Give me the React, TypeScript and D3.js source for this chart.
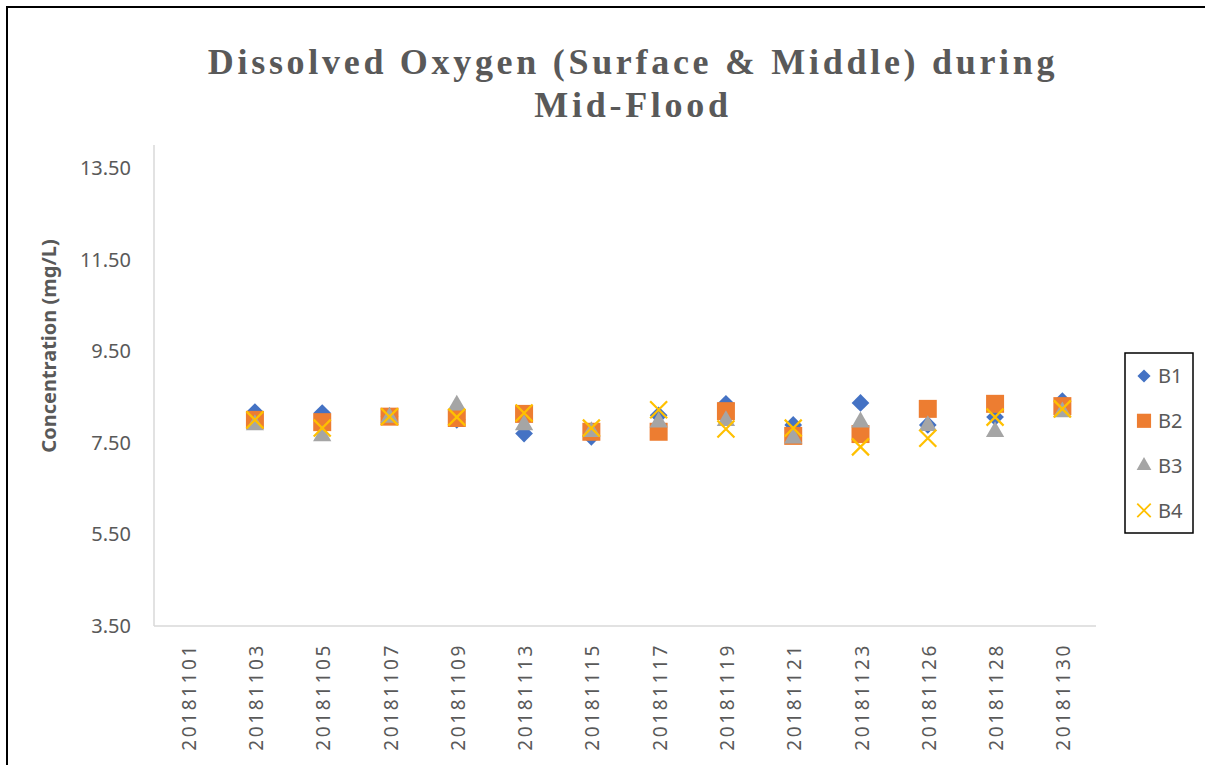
import React from "react";
import * as d3 from "d3";

// sampling dates (x categories)
const dates = [
  "20181101", "20181103", "20181105", "20181107", "20181109", "20181113", "20181115",
  "20181117", "20181119", "20181121", "20181123", "20181126", "20181128", "20181130",
];

// dissolved oxygen, mg/L (null = no sample)
const b1 = [null, 8.17, 8.15, 8.08, 8.0, 7.7, 7.63, 8.1, 8.35, 7.89, 8.37, 7.89, 8.06, 8.41];
const b2 = [null, 8.0, 7.95, 8.07, 8.04, 8.13, 7.74, 7.74, 8.19, 7.65, 7.69, 8.24, 8.35, 8.3];
const b3 = [null, 7.89, 7.65, 8.05, 8.32, 7.89, 7.74, 7.95, 7.98, 7.6, 7.95, 7.87, 7.74, 8.17];
const b4 = [null, 8.0, 7.82, 8.07, 8.06, 8.15, 7.82, 8.22, 7.8, 7.82, 7.41, 7.6, 8.06, 8.24];

const yTicks = [3.5, 5.5, 7.5, 9.5, 11.5, 13.5];
const seriesNames = ["B1", "B2", "B3", "B4"];

const grey = "#595959";
const axisGrey = "#D9D9D9";

const series = [
  { name: seriesNames[0], values: b1, color: "#4472C4", symbol: d3.symbolDiamond2, size: 200, legendSize: 110 },
  { name: seriesNames[1], values: b2, color: "#ED7D31", symbol: d3.symbolSquare, size: 324, legendSize: 200 },
  { name: seriesNames[2], values: b3, color: "#A5A5A5", symbol: d3.symbolTriangle, size: 145, legendSize: 95 },
  { name: seriesNames[3], values: b4, color: "#FFC000", symbol: d3.symbolTimes, size: 190, legendSize: 120 },
];

const App = () => {
  const width = 1205;
  const height = 765;
  const plot = { left: 154, right: 1096, top: 145, bottom: 626 };

  const x = d3.scaleBand().domain(dates).range([plot.left, plot.right]).padding(0);
  const y = d3.scaleLinear().domain([3.5, 14]).range([plot.bottom, plot.top]);
  const fmt = d3.format(".2f");

  const symbolPath = (s, size) => d3.symbol().type(s).size(size)();

  return (
    <svg
      width={width}
      height={height}
      style={{ position: "absolute", left: 0, top: 0, background: "#fff" }}
    >
      <rect x={7} y={7} width={1240} height={800} fill="#fff" stroke="#000" strokeWidth={2} />

      {/* title */}
      <text
        x={633}
        fontFamily="'Liberation Serif', serif"
        fontWeight="bold"
        fontSize={36}
        letterSpacing={3.7}
        fill={grey}
        textAnchor="middle"
      >
        <tspan x={633} y={74}>Dissolved Oxygen (Surface &amp; Middle) during</tspan>
        <tspan x={633} y={117}>Mid-Flood</tspan>
      </text>

      {/* y axis */}
      <line x1={plot.left} x2={plot.left} y1={plot.top} y2={plot.bottom} stroke={axisGrey} strokeWidth={1.5} />
      {yTicks.map((t) => (
        <text
          key={t}
          x={131}
          y={y(t)}
          dy="0.35em"
          textAnchor="end"
          fontFamily="'Noto Sans', sans-serif"
          fontSize={20}
          fill={grey}
        >
          {fmt(t)}
        </text>
      ))}
      <text
        transform={`translate(56,346) rotate(-90)`}
        textAnchor="middle"
        fontFamily="'Noto Sans', sans-serif"
        fontWeight="bold"
        fontSize={20}
        fill={grey}
      >
        Concentration (mg/L)
      </text>

      {/* x axis */}
      <line x1={plot.left} x2={plot.right} y1={plot.bottom} y2={plot.bottom} stroke={axisGrey} strokeWidth={1.5} />
      {dates.map((d) => (
        <text
          key={d}
          transform={`translate(${x(d) + x.bandwidth() / 2 + 8},643) rotate(-90)`}
          textAnchor="end"
          fontFamily="'Noto Sans', sans-serif"
          fontSize={19}
          letterSpacing={2.6}
          fill={grey}
        >
          {d}
        </text>
      ))}

      {/* points */}
      {series.map((s) => (
        <g key={s.name}>
          {s.values.map((v, i) =>
            v == null ? null : (
              <path
                key={i}
                d={symbolPath(s.symbol, s.size)}
                transform={`translate(${x(dates[i]) + x.bandwidth() / 2},${y(v)})`}
                fill={s.symbol === d3.symbolTimes ? "none" : s.color}
                stroke={s.symbol === d3.symbolTimes ? s.color : "none"}
                strokeWidth={2.2}
              />
            )
          )}
        </g>
      ))}

      {/* legend */}
      <rect x={1125} y={353} width={68} height={180} fill="#fff" stroke="#000" strokeWidth={1.5} />
      {series.map((s, i) => (
        <g key={s.name} transform={`translate(1144,${376 + i * 44.8})`}>
          <path
            d={symbolPath(s.symbol, s.legendSize)}
            fill={s.symbol === d3.symbolTimes ? "none" : s.color}
            stroke={s.symbol === d3.symbolTimes ? s.color : "none"}
            strokeWidth={1.8}
          />
          <text x={14} dy="0.36em" fontFamily="'Noto Sans', sans-serif" fontSize={20} fill={grey}>
            {s.name}
          </text>
        </g>
      ))}
    </svg>
  );
};

export default App;
